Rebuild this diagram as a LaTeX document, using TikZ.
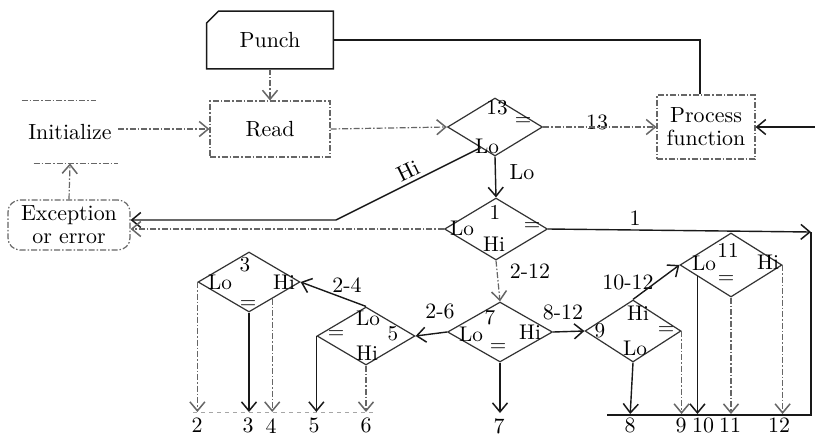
\documentclass[tikz,border=0pt]{standalone}
\usetikzlibrary{shapes.geometric,arrows.meta,calc}
\begin{document}
\begin{tikzpicture}[x=0.5pt,y=-0.5pt,
  every node/.style={font=\fontsize{10.95}{11.5}\selectfont, inner sep=0pt},
  lbl/.style={font=\fontsize{10.6}{11.5}\selectfont},
  box/.style 2 args={minimum width=#1, minimum height=#2, align=center},
  dia/.style 2 args={shape=diamond, draw=black!80, line width=0.6pt, minimum width=#1, minimum height=#2},
  ln/.style={draw=black!90, line width=0.7pt},
  fl/.style={draw=black!60, line width=0.6pt, dash pattern=on 3pt off 1pt on 0.75pt off 1pt},
  >={Straight Barb[length=4.5pt,width=7.5pt,line width=0.75pt]}]
\fill[white] (0,0) rectangle (815,435);
\useasboundingbox (0,0) rectangle (815,435);

% ---- boxes ----
\node[box={63pt}{28.5pt}] (punch) at (270,40) {Punch};
\draw[ln] ($(punch.north west)+(12,0)$) -- (punch.north east) -- (punch.south east)
  -- (punch.south west) -- ($(punch.north west)+(0,12)$) -- cycle;
\node[box={60pt}{28pt}, fl, draw] (read) at (270,129) {Read};
\node[box={48pt}{31pt}] (init) at (70,132) {Initialize};
\draw[fl] (init.north west) -- ($(init.north east)+(-22,0)$);
\draw[fl] ($(init.south west)+(12,0)$) -- (init.south east);
\node[box={61pt}{25pt}, fl, draw, rounded corners=6pt] (exc) at (69,225) {Exception\\or error};
\node[box={49pt}{32pt}, fl, draw] (proc) at (706,127) {Process\\function};

% ---- decision diamonds ----
\node[dia={47.5pt}{29pt}] (d13) at (495,127) {};
\node[dia={51.5pt}{31pt}] (d1) at (496,229) {};
\node[dia={52.5pt}{30pt}] (d7) at (500,332) {};
\node[dia={48pt}{31pt}] (d9) at (633,331) {};
\node[dia={51pt}{32pt}] (d11) at (731,265) {};
\node[dia={49pt}{29pt}] (d5) at (366,336) {};
\node[dia={51pt}{30pt}] (d3) at (249,282) {};

% ---- labels inside diamonds ----
\node[lbl] (a13) at (497,108) {13};
\node[lbl] (b13) at (523,122) {=};
\node[lbl] (c13) at (487,146) {Lo};
\node[lbl] (a1) at (495,212) {1};
\node[lbl] (b1) at (462,228) {Lo};
\node[lbl] (c1) at (532,227) {=};
\node[lbl] (h1) at (494,244) {Hi};
\node[lbl] (a7) at (490,318) {7};
\node[lbl] (b7) at (471,334) {Lo};
\node[lbl] (c7) at (530,332) {Hi};
\node[lbl] (e7) at (498,348) {=};
\node[lbl] (a9) at (600,331) {9};
\node[lbl] (b9) at (638,313) {Hi};
\node[lbl] (c9) at (666,331) {=};
\node[lbl] (e9) at (635,348) {Lo};
\node[lbl] (a11) at (728,250) {11};
\node[lbl] (b11) at (704,263) {Lo};
\node[lbl] (c11) at (726,280) {=};
\node[lbl] (e11) at (768,262) {Hi};
\node[lbl] (a5) at (368,318) {Lo};
\node[lbl] (b5) at (393,334) {5};
\node[lbl] (c5) at (336,335) {=};
\node[lbl] (e5) at (367,353) {Hi};
\node[lbl] (a3) at (245,265) {3};
\node[lbl] (b3) at (220,282) {Lo};
\node[lbl] (c3) at (284,282) {Hi};
\node[lbl] (e3) at (248,305) {=};

% ---- edge labels ----
\node (lLo) at (522,172) {Lo};
\node[rotate=26] (lHi) at (408,171) {Hi};
\node (l13) at (597,122) {13};
\node (l1) at (635,218) {1};
\node (l212) at (530,271) {2-12};
\node (l26) at (440,311) {2-6};
\node (l812) at (563,312) {8-12};
\node (l1012) at (628,282) {10-12};
\node (l24) at (347,285) {2-4};

% ---- bottom numbers ----
\node[anchor=north] (n2) at (197,418) {2};
\node[anchor=north] (n3) at (248,418) {3};
\node[anchor=north] (n4) at (271,418) {4};
\node[anchor=north] (n5) at (314,418) {5};
\node[anchor=north] (n6) at (366,418) {6};
\node[anchor=north] (n7) at (499,418) {7};
\node[anchor=north] (n8) at (630,418) {8};
\node[anchor=north] (n9) at (681,418) {9};
\node[anchor=north] (n10) at (703,418) {10};
\node[anchor=north] (n11) at (730,418) {11};
\node[anchor=north] (n12) at (779,418) {12};

% ---- coordinates ----
\coordinate (pk) at (700,40);
\coordinate (rin) at (815,127);
\coordinate (hk) at (336,220);
\coordinate (r1) at (811,232);
\coordinate (rb) at (811,415);
\coordinate (bl) at (607,415);
\coordinate (ll) at (193,412);
\coordinate (lr) at (375,412);
\coordinate (hs) at ($(d13.west)!0.7!(d13.south)$);
\coordinate (s4) at ($(d3.east)!0.55!(d3.south)$);
\coordinate (s10) at ($(d11.west)!0.35!(d11.south)$);

% ---- connectors ----
\draw[fl,->] (punch.south) -- (read.north);
\draw[fl,->] (init.east |- read.west) -- (read.west);
\draw[fl,->] (read.east) -- (d13.west);
\draw[fl,->] (d13.east) -- (proc.west);
\draw[ln] (proc.north -| pk) -- (pk) -- (punch.east |- pk);
\draw[ln,->] (rin) -- (proc.east);
\draw[fl,->] (exc.north) -- (init.south);
\draw[ln,->] (d13.south) -- (d1.north);
\draw[ln,->] (hs) -- (hk) -- (exc.east |- hk);
\draw[fl,->] (d1.west) -- (exc.east |- d1.west);
\draw[ln,->] (d1.east) -- (r1);
\draw[ln] (r1) -- (rb) -- (bl);
\draw[draw=black!35, line width=0.45pt, dash pattern=on 2pt off 2pt] (ll) -- (lr);
\draw[fl,->] (d1.south) -- (d7.north);
\draw[ln,->] (d7.west) -- (d5.east);
\draw[ln,->] (d7.east) -- (d9.west);
\draw[ln,->,shorten >=2.5pt] (d7.south) -- (d7.south |- n7.north);
\draw[ln,->] (d9.north) -- (d11.west);
\draw[ln,->,shorten >=2pt] (d9.south) -- (n8.north);
\draw[fl,->,shorten >=2pt] (d9.east) -- (d9.east |- n9.north);
\draw[ln,->,shorten >=2pt] (s10) -- (s10 |- n10.north);
\draw[fl,->,shorten >=2pt] (d11.south) -- (d11.south |- n11.north);
\draw[fl,->,shorten >=2pt] (d11.east) -- (d11.east |- n12.north);
\draw[ln,->] (d5.north) -- (d3.east);
\draw[fl,->,shorten >=3pt] (d3.west) -- (d3.west |- n2.north);
\draw[ln,->,shorten >=3pt] (d3.south) -- (d3.south |- n3.north);
\draw[fl,->,shorten >=3pt] (s4) -- (s4 |- n4.north);
\draw[ln,->,shorten >=3pt] (d5.west) -- (d5.west |- n5.north);
\draw[fl,->,shorten >=3pt] (d5.south) -- (d5.south |- n6.north);
\end{tikzpicture}
\end{document}
